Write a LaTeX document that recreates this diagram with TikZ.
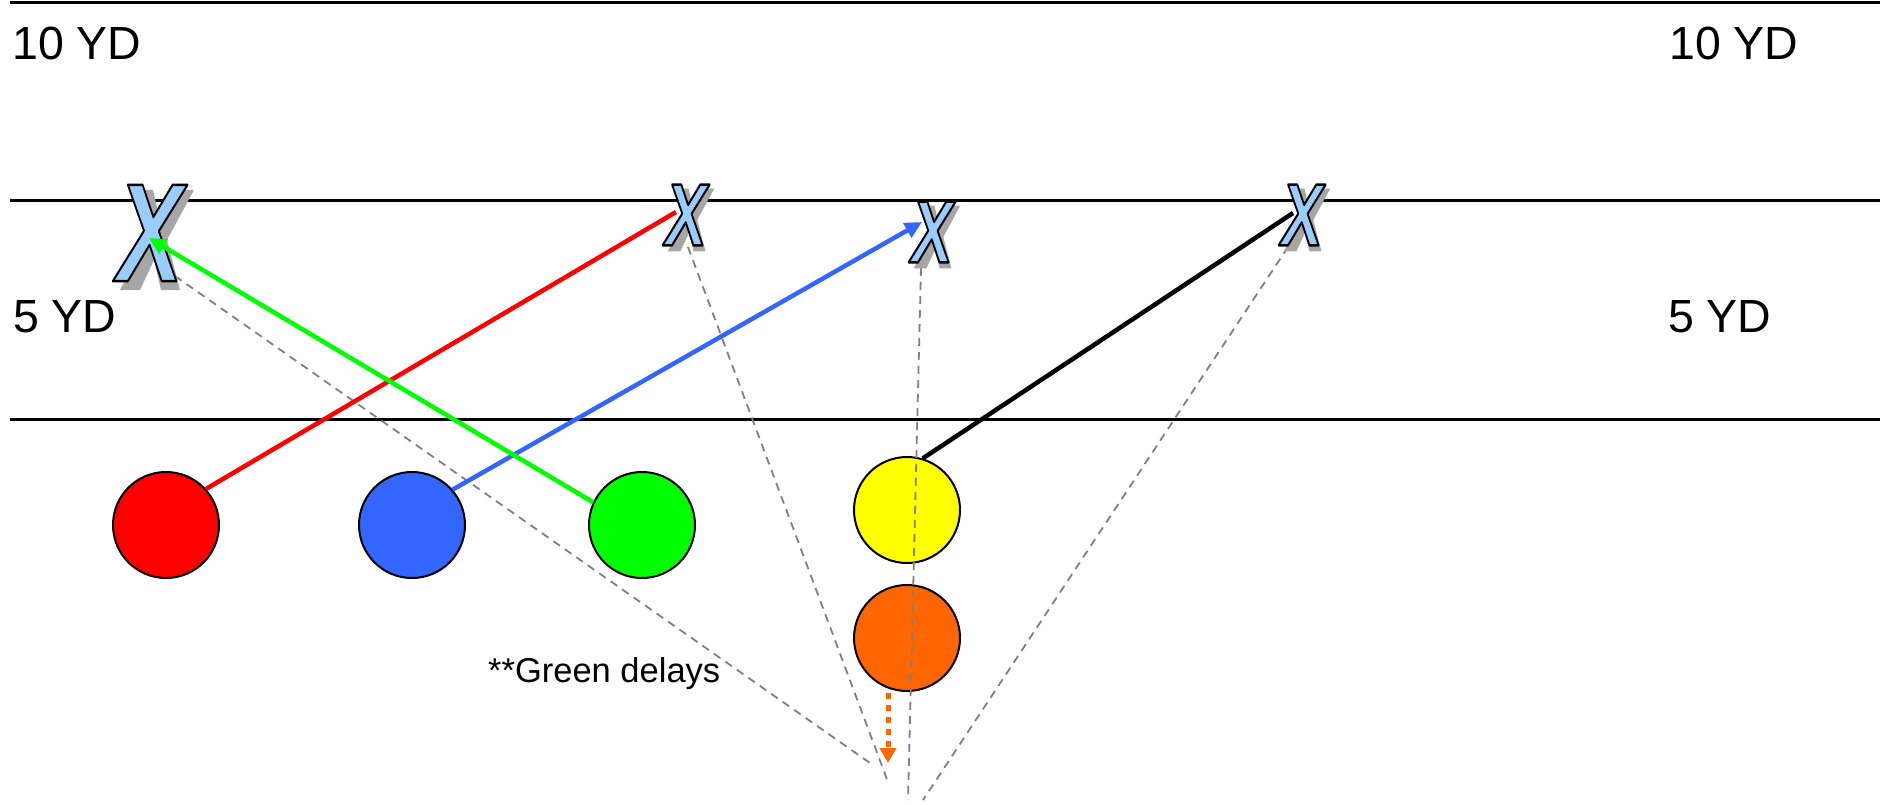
\documentclass[tikz,border=0pt]{standalone}
\usepackage{fontspec}
\setmainfont{Liberation Sans}
\usetikzlibrary{arrows.meta}
\definecolor{xblue}{HTML}{99CCFF}
\definecolor{xshadowc}{HTML}{A6A6A6}
\definecolor{pred}{HTML}{FF0000}
\definecolor{pblue}{HTML}{3366FF}
\definecolor{pgreen}{HTML}{00FF00}
\definecolor{pyellow}{HTML}{FFFF00}
\definecolor{porange}{HTML}{FF6600}
\definecolor{dashgray}{HTML}{808080}
\newcommand\strokedX{\scalebox{0.7}[1]{\special{pdf:literal direct 0 0 0 RG 2.5 w 1 j 2 Tr}X\special{pdf:literal direct 0 Tr}}}
% drop shadow of an X mark: centre x, centre y, scale
\newcommand\xsh[3]{\begin{scope}[shift={(#1,#2)}, scale=#3]
  \fill[xshadowc] (-23,-50) -- (-4,-50) -- (3,-20) -- (17,-50) -- (37,-50) -- (10,0) -- (23,50) -- (4,50) -- (-3,20) -- (-17,50) -- (-37,50) -- (-10,0) -- cycle;
\end{scope}}
\begin{document}
\begin{tikzpicture}[x=1pt,y=-1pt,
  field/.style={line width=3pt, black},
  yd/.style={font=\fontsize{46.5}{50}\selectfont, anchor=base west, inner sep=0},
  note/.style={font=\fontsize{34.5}{38}\selectfont, anchor=base west, inner sep=0},
  player/.style={circle, draw=black, line width=2pt, minimum size=106pt, inner sep=0},
  guide/.style={dashgray, line width=1.8pt, dash pattern=on 8pt off 6pt},
  route/.style={line width=4.5pt},
  routetip/.style={-{Triangle[width=16pt,length=17pt]}},
  bigx/.style={inner sep=0, text=xblue, font=\fontsize{140}{140}\selectfont\bfseries\itshape},
  smallx/.style={inner sep=0, text=xblue, font=\fontsize{88}{88}\selectfont\bfseries\itshape}
]
\useasboundingbox (0,0) rectangle (1892,805);

% field lines
\coordinate (t1) at (10,3);   \coordinate (t2) at (1880,3);
\coordinate (m1) at (10,201); \coordinate (m2) at (1880,201);
\coordinate (b1) at (10,419); \coordinate (b2) at (1880,419);
\draw[field] (t1) -- (t2);
\draw[field] (m1) -- (m2);
\draw[field] (b1) -- (b2);

% yard labels
\node[yd] (l10) at (12,60) {10 YD};
\node[yd] (r10) at (1669,60) {10 YD};
\node[yd] (l5) at (13,332) {5 YD};
\node[yd] (r5) at (1668,332) {5 YD};
\node[note] (gd) at (488,682) {**Green delays};

% players
\node[player, fill=pred] (red) at (166,525) {};
\node[player, fill=pblue] (blue) at (412,525) {};
\node[player, fill=pgreen] (green) at (642,525) {};
\node[player, fill=pyellow] (yellow) at (907,510) {};
\node[player, fill=porange] (orange) at (907,638) {};

% guide (dashed) lines
\coordinate (s1) at (175,276); \coordinate (e1) at (870,763);
\coordinate (s2) at (688,247); \coordinate (e2) at (888,782);
\coordinate (s3) at (921,268); \coordinate (e3) at (908,800);
\coordinate (s4) at (1288,247); \coordinate (e4) at (923,800);
\draw[guide] (s1) -- (e1);
\draw[guide] (s2) -- (e2);
\draw[guide] (s3) -- (e3);
\draw[guide] (s4) -- (e4);

% route ends
\coordinate (x1end) at (149,238);
\coordinate (x2end) at (676,212);
\coordinate (x3end) at (922,222);
\coordinate (x4end) at (1293,213);

\draw[route, pred] (red.42) -- (x2end);
\draw[route, black] (yellow.73) -- (x4end);

% X marks: shadow, then outlined letter
\xsh{157}{240}{1}
\xsh{691}{220}{0.629}
\xsh{937}{237}{0.629}
\xsh{1307}{220}{0.629}
\node[bigx] (X1) at (150,233) {\strokedX};
\node[smallx] (X2) at (686,215) {\strokedX};
\node[smallx] (X3) at (932,232) {\strokedX};
\node[smallx] (X4) at (1302,215) {\strokedX};

\draw[route, pblue, routetip] (blue.41) -- (x3end);
\draw[route, pgreen, routetip] (green.155) -- (x1end);

% orange delay arrow
\coordinate (o1) at (888,693);
\coordinate (o2) at (888,763);
\draw[porange, line width=5pt, dash pattern=on 6pt off 6pt, -{Triangle[width=16pt,length=15pt,sep=0pt]}] (o1) -- (o2);
\end{tikzpicture}
\end{document}
